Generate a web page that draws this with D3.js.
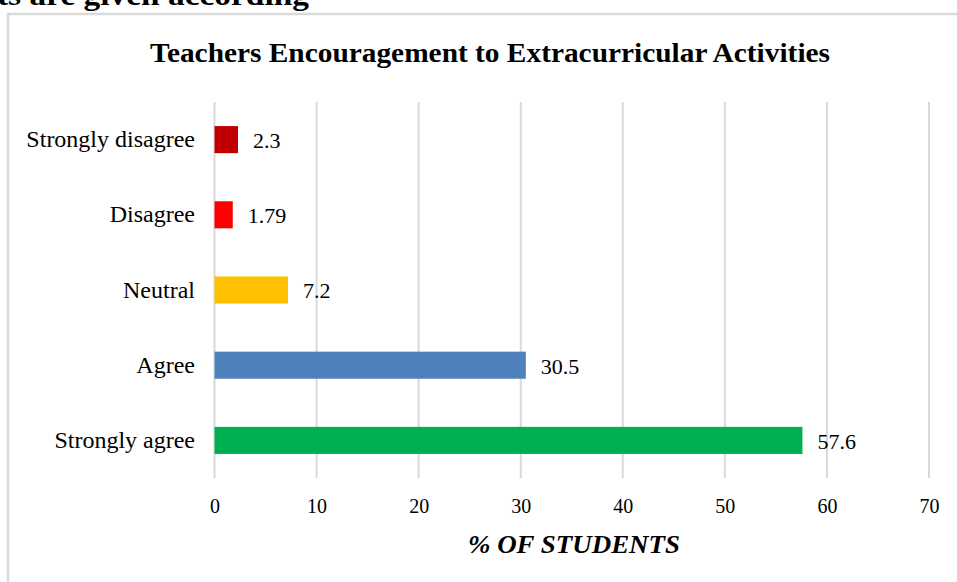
<!DOCTYPE html>
<html>
<head>
<meta charset="utf-8">
<script src="https://cdn.jsdelivr.net/npm/d3@7"></script>
<style>
  body{margin:0;background:#fff;}
  svg text{font-family:"Liberation Serif","Times New Roman",serif;fill:#000;}
</style>
</head>
<body>
<svg id=holder></svg>
<script>
var categories=['Strongly disagree','Disagree','Neutral','Agree','Strongly agree'];
var values=[2.3,1.79,7.2,30.5,57.6];
var value_labels=['2.3','1.79','7.2','30.5','57.6'];
var bar_colors=['#C00000','#FF0000','#FFC000','#4F81BD','#00B050'];
var x_ticks=[0,10,20,30,40,50,60,70];

var width=957, height=582;
var svg=d3.select('#holder').attr('width',width).attr('height',height);

// page text cut off above the figure
svg.append('text')
  .attr('x',-3).attr('y',5)
  .attr('textLength',312).attr('lengthAdjust','spacingAndGlyphs')
  .style('font-size','30px').style('font-weight','bold')
  .text('ts are given according');

// chart frame
svg.append('rect')
  .attr('x',8).attr('y',14).attr('width',width+10).attr('height',height)
  .attr('fill','none').attr('stroke','#d9d9d9').attr('stroke-width',2.5);

var xscale=d3.scaleLinear().domain([0,70]).range([214.5,929]);
var yscale=d3.scaleBand().domain(categories).range([102,478]).paddingInner(0.64).paddingOuter(0.32);

var gg=svg.append('g');

// vertical gridlines
gg.selectAll('line.grid').data(x_ticks).enter().append('line')
  .attr('class','grid')
  .attr('x1',function(d){return xscale(d);}).attr('x2',function(d){return xscale(d);})
  .attr('y1',102).attr('y2',478)
  .attr('stroke','#d9d9d9').attr('stroke-width',2);

// x tick labels
var x_axis=d3.axisBottom().scale(xscale).tickValues(x_ticks).tickSize(0).tickPadding(0);
var X=gg.append('g').attr('transform','translate(0,499)').call(x_axis);
X.select('.domain').remove();
X.selectAll('text').style('font-family','"Liberation Serif",serif').style('font-size','20px').attr('fill','#000');

// category labels
var y_axis=d3.axisLeft().scale(yscale).tickSize(0).tickPadding(0);
var Y=gg.append('g').attr('transform','translate(195,0)').call(y_axis);
Y.select('.domain').remove();
Y.selectAll('text').style('font-family','"Liberation Serif",serif').style('font-size','24px').attr('fill','#000');

// bars
gg.selectAll('rect.bar').data(values).enter().append('rect')
  .attr('class','bar')
  .attr('x',xscale(0))
  .attr('y',function(d,i){return yscale(categories[i]);})
  .attr('width',function(d){return xscale(d)-xscale(0);})
  .attr('height',yscale.bandwidth())
  .attr('fill',function(d,i){return bar_colors[i];});

// value labels
gg.selectAll('text.val').data(values).enter().append('text')
  .attr('class','val')
  .attr('x',function(d){return xscale(d)+15;})
  .attr('y',function(d,i){return yscale(categories[i])+yscale.bandwidth()/2;})
  .attr('dy','0.38em')
  .style('font-size','22px')
  .text(function(d,i){return value_labels[i];});

// title
svg.append('text')
  .attr('x',490).attr('y',62)
  .attr('text-anchor','middle')
  .attr('textLength',680).attr('lengthAdjust','spacingAndGlyphs')
  .style('font-size','28px').style('font-weight','bold')
  .text('Teachers Encouragement to Extracurricular Activities');

// x axis title
svg.append('text')
  .attr('x',574).attr('y',553)
  .attr('text-anchor','middle')
  .attr('textLength',212).attr('lengthAdjust','spacingAndGlyphs')
  .style('font-size','25px').style('font-weight','bold').style('font-style','italic')
  .text('% OF STUDENTS');
</script>
</body>
</html>
